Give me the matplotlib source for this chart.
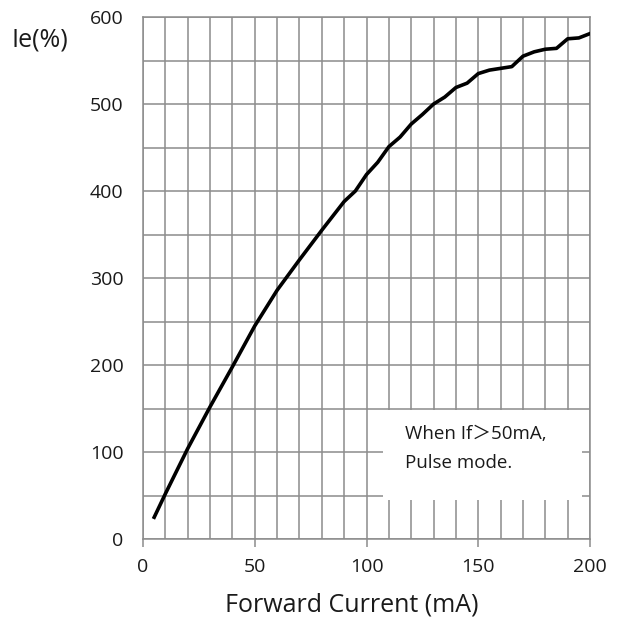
import matplotlib
import matplotlib.pyplot as plt
from matplotlib.patches import Rectangle
from matplotlib.ticker import MultipleLocator

matplotlib.use("agg")

# Forward current (mA) vs relative intensity Ie (%)
current = [5, 10, 20, 30, 40, 50, 60, 70, 80, 90, 95, 100, 105, 110, 115, 120,
           125, 130, 135, 140, 145, 150, 155, 160, 165, 170, 175, 180, 185, 190,
           195, 200]
intensity = [25, 52, 104, 152, 198, 245, 286, 321, 355, 388, 400, 419, 433, 451,
             462, 477, 488, 500, 508, 519, 524, 535, 539, 541, 543, 555, 560, 563,
             564, 575, 576, 581]

x_ticks = [0, 50, 100, 150, 200]
y_ticks = [0, 100, 200, 300, 400, 500, 600]

plt.rcParams["font.family"] = ["Open Sans", "Noto Sans CJK SC", "DejaVu Sans"]

fig = plt.figure(figsize=(6.17, 6.24), dpi=100)
ax = fig.add_axes([0.2318, 0.1362, 0.7245, 0.8365])

grid_col = "#8c8c8c"
ax.set_xlim(0, 200)
ax.set_ylim(0, 600)
ax.set_xticks(x_ticks)
ax.set_yticks(y_ticks)
ax.xaxis.set_minor_locator(MultipleLocator(10))
ax.yaxis.set_minor_locator(MultipleLocator(50))
ax.set_axisbelow(True)
ax.grid(which="both", color=grid_col, linewidth=1.1)
ax.tick_params(axis="x", which="major", length=5.5, width=1.1, color=grid_col,
               pad=8, labelsize=14, labelcolor="#1a1a1a")
ax.tick_params(axis="x", which="minor", length=0)
ax.tick_params(axis="y", which="both", length=0, pad=14, labelsize=14,
               labelcolor="#1a1a1a")
for s in ax.spines.values():
    s.set_color(grid_col)
    s.set_linewidth(1.1)

# blank area for the note
ax.add_patch(Rectangle((107.5, 45), 89, 103, facecolor="white",
                       edgecolor="none", zorder=1))
ax.text(117, 104, "When If\uff1e50mA,\nPulse mode.", fontsize=13.5,
        color="#1a1a1a", va="center", ha="left", linespacing=1.75, zorder=3)

ax.plot(current, intensity, color="black", linewidth=2.6, zorder=4,
        solid_joinstyle="round")

ax.set_xlabel("Forward Current (mA)", fontsize=18, color="#1a1a1a")
ax.xaxis.set_label_coords(0.468, -0.126)
ax.xaxis.label.set_va("center")
fig.text(0.065, 0.936, "Ie(%)", fontsize=18, color="#1a1a1a",
         ha="center", va="center")

fig.savefig("out.png", dpi=100)
